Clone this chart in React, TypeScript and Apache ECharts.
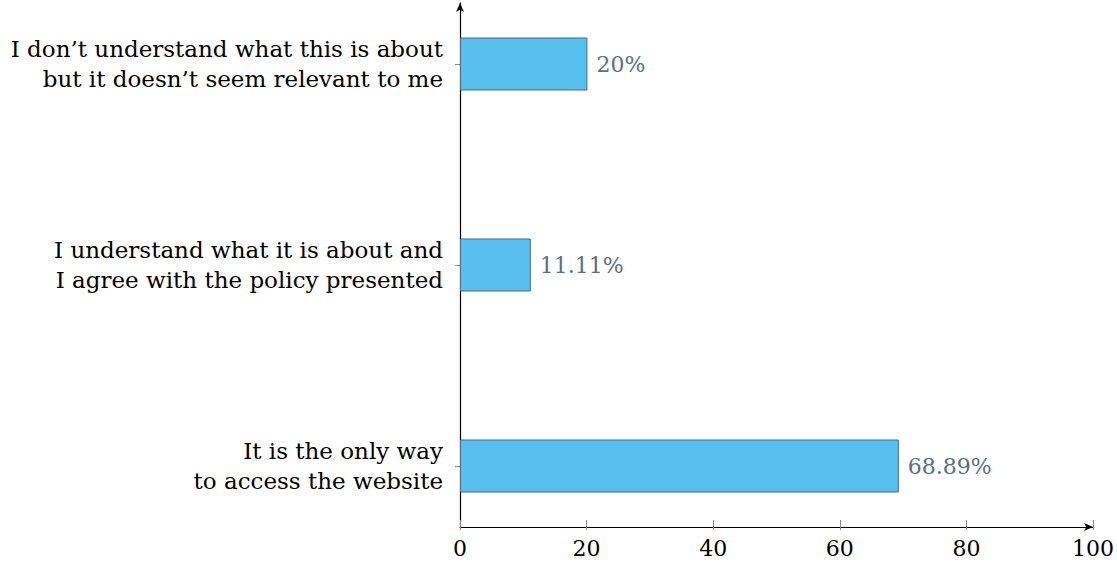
import React, { useEffect, useRef } from "react";
import * as echarts from "echarts";

const categories = [
  "It is the only way\nto access the website",
  "I understand what it is about and\nI agree with the policy presented",
  "I don’t understand what this is about\nbut it doesn’t seem relevant to me",
];
const values = [68.89, 11.11, 20];
const xTicks = { min: 0, max: 100, interval: 20 };

const FONT = "'DejaVu Serif', 'Liberation Serif', serif";

export default function App() {
  const ref = useRef<HTMLDivElement>(null);
  useEffect(() => {
    if (!ref.current) return;
    const chart = echarts.init(ref.current, null, { renderer: "svg" });
    chart.setOption({
      animation: false,
      backgroundColor: "#ffffff",
      grid: [
        { left: 460, right: 20, top: 3, bottom: 37 },
        { left: 460, right: 20, top: 64, bottom: 98 },
      ],
      xAxis: [
        {
          gridIndex: 0,
          type: "value",
          min: xTicks.min,
          max: xTicks.max,
          interval: xTicks.interval,
          splitLine: { show: false },
          axisLine: {
            show: true,
            lineStyle: { color: "#000", width: 1.2 },
            symbol: ["none", "arrow"],
            symbolSize: [6, 9],
          },
          axisTick: { show: true, inside: true, length: 7, lineStyle: { color: "#888", width: 1 } },
          axisLabel: { color: "#000", fontFamily: FONT, fontSize: 22, margin: 10 },
        },
        {
          gridIndex: 0,
          type: "value",
          position: "bottom",
          min: xTicks.min,
          max: xTicks.max,
          interval: xTicks.interval,
          splitLine: { show: false },
          axisLine: { show: false },
          axisTick: { show: true, inside: false, length: 3, lineStyle: { color: "#888", width: 1 } },
          axisLabel: { show: false },
        },
        {
          gridIndex: 1,
          type: "value",
          min: xTicks.min,
          max: xTicks.max,
          show: false,
        },
      ],
      yAxis: [
        {
          gridIndex: 0,
          type: "value",
          min: 0,
          max: 1,
          splitLine: { show: false },
          axisTick: { show: false },
          axisLabel: { show: false },
          axisLine: {
            show: true,
            onZero: false,
            lineStyle: { color: "#000", width: 1.2 },
            symbol: ["none", "arrow"],
            symbolSize: [6, 9],
          },
        },
        {
          gridIndex: 1,
          type: "category",
          data: categories,
          boundaryGap: false,
          axisLine: { show: false },
          axisTick: { show: true, length: 5, lineStyle: { color: "#888", width: 1 } },
          splitLine: { show: false },
          axisLabel: {
            color: "#000",
            fontFamily: FONT,
            fontSize: 23,
            lineHeight: 30,
            align: "right",
            margin: 17,
          },
        },
      ],
      series: [
        {
          type: "bar",
          xAxisIndex: 2,
          yAxisIndex: 1,
          data: values,
          barWidth: 53,
          itemStyle: { color: "#56BFEE", borderColor: "#4d6a7e", borderWidth: 1 },
          label: {
            show: true,
            position: "right",
            distance: 9,
            formatter: "{c}%",
            color: "#5b6f80",
            fontFamily: FONT,
            fontSize: 22,
          },
        },
      ],
    });
    return () => chart.dispose();
  }, []);
  return (
    <div
      ref={ref}
      style={{ position: "absolute", left: 0, top: 0, width: 1117, height: 564 }}
    />
  );
}
